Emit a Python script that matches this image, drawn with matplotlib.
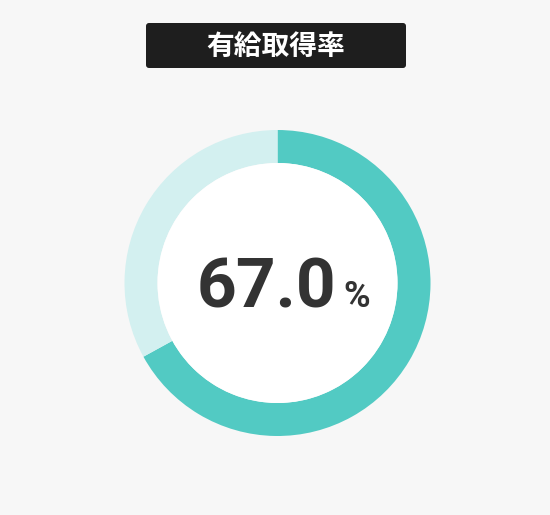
import matplotlib
matplotlib.use("Agg")
import matplotlib.pyplot as plt
from matplotlib.patches import FancyBboxPatch, Circle

# data
title = "有給取得率"
labels = ["取得", "未取得"]
values = [67.0, 33.0]
value_text = "67.0"
unit_text = "%"

W, H = 550, 515
BG = "#f7f7f7"
TEAL = "#52cac3"
LIGHT = "#d3f0f0"
CJK = ["Noto Sans CJK JP", "DejaVu Sans"]
LAT = ["Roboto", "DejaVu Sans"]

fig = plt.figure(figsize=(W / 100, H / 100), dpi=100, facecolor=BG)
ax = fig.add_axes([0, 0, 1, 1])
ax.set_facecolor(BG)

cx, cy = 277.5, H - 283
R, r = 153, 120
ax.pie(values, colors=[TEAL, LIGHT], startangle=90, counterclock=False,
       center=(cx, cy), radius=R, wedgeprops=dict(width=R - r, linewidth=0),
       frame=True)
ax.add_patch(Circle((cx, cy), r, facecolor="white", edgecolor="none", zorder=3))

# title box
bx0, bx1, by0, by1 = 146, 406, H - 68, H - 23
ax.add_patch(FancyBboxPatch((bx0 + 3, by0 + 3), bx1 - bx0 - 6, by1 - by0 - 6,
                            boxstyle="round,pad=3,rounding_size=3",
                            facecolor="#1e1e1e", edgecolor="none", zorder=3))
ax.text((bx0 + bx1) / 2, (by0 + by1) / 2 - 1, title, ha="center", va="center",
        color="white", fontsize=20, fontweight="bold", family=CJK, zorder=4)

ax.text(267, H - 308, value_text, ha="center", va="baseline", color="#333333",
        fontsize=50, fontweight="bold", family=LAT, zorder=4)
ax.text(357, H - 307, unit_text, ha="center", va="baseline", color="#333333",
        fontsize=26, fontweight="bold", family=LAT, zorder=4)

ax.set_xlim(0, W)
ax.set_ylim(0, H)
ax.set_aspect("auto")
ax.axis("off")
fig.savefig("out.png", dpi=100, facecolor=BG)
